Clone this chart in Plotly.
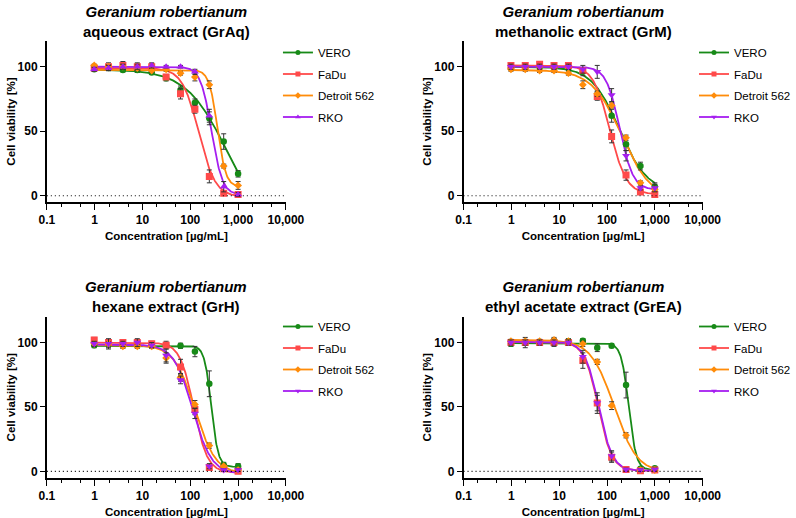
import numpy as np
import plotly.graph_objects as go

# ---------------- data ----------------
conc = [0.98, 1.95, 3.9, 7.8, 15.6, 31.25, 62.5, 125, 250, 500, 1000]
tick_vals = [0.1, 1, 10, 100, 1000, 10000]
tick_text = ["0.1", "1", "10", "100", "1,000", "10,000"]
y_ticks = [0, 50, 100]
cell_lines = ["VERO", "FaDu", "Detroit 562", "RKO"]
species = "Geranium robertianum"
extracts = ["aqueous extract (GrAq)", "methanolic extract (GrM)",
            "hexane extract (GrH)", "ethyl acetate extract (GrEA)"]

# GrAq (aqueous)
graq_vero = [98, 99, 97.5, 97.5, 95.5, 91, 82, 72, 60, 42, 17]
graq_fadu = [99, 100, 101, 100, 100, 92, 79, 67, 15, 2, 1]
graq_detroit = [101, 100, 100, 99, 97, 98, 95, 92, 86, 23, 8]
graq_rko = [98, 99, 100, 100, 101, 100, 100, 96, 62, 7, 1]
graq_vero_sd = [1.5, 2, 1.5, 2, 1.5, 2, 3, 3, 5, 6, 2.5]
graq_fadu_sd = [2, 3, 3, 3, 2, 2, 4, 3, 5, 1.5, 1.5]
graq_detroit_sd = [1, 1.5, 1.5, 1.5, 1.5, 1.5, 1.5, 3, 3, 1.5, 3]
graq_rko_sd = [1.5, 2, 2, 2, 2, 1, 1, 2, 5, 4, 1.5]

# GrM (methanolic)
grm_vero = [99, 100, 100, 100, 99, 96, 78, 62, 40, 23, 7]
grm_fadu = [101, 101, 102, 101, 101, 97, 77, 46, 16, 3, 1]
grm_detroit = [98, 98, 97, 97, 95, 86, 79, 70, 45, 10, 5]
grm_rko = [100, 100, 100, 100, 100, 98, 96, 78, 31, 6, 6]
grm_vero_sd = [1.5, 2, 2, 2, 2, 3, 3, 5, 5, 3, 3]
grm_fadu_sd = [2, 2, 2, 2, 2, 2, 3, 5, 4, 1.5, 1]
grm_detroit_sd = [1.5, 1.5, 1.5, 1.5, 1.5, 3, 2, 2, 2, 1.5, 1.5]
grm_rko_sd = [2, 2, 2, 2, 2, 3, 5, 5, 4, 1.5, 3]

# GrH (hexane)
grh_vero = [98, 99, 98, 98, 98, 98, 97.5, 93, 68, 5, 4]
grh_fadu = [102, 100, 100, 100, 99, 98, 81, 48, 3, 2, 0]
grh_detroit = [99, 99, 97, 97, 97, 88, 73, 52, 20, 4, 1]
grh_rko = [99, 99, 99, 100, 98, 90, 71, 45, 4, 1, 1]
grh_vero_sd = [2, 3, 2, 2, 2, 2, 2, 4, 10, 2, 2]
grh_fadu_sd = [2, 2, 2, 2, 2, 3, 6, 4, 2, 1.5, 1]
grh_detroit_sd = [1.5, 1.5, 1.5, 1.5, 1.5, 4, 3, 3, 2, 1.5, 1]
grh_rko_sd = [2, 4, 2, 3, 2, 5, 3, 4, 2, 1, 1]

# GrEA (ethyl acetate)
grea_vero = [99, 100, 100, 101, 101, 101.5, 96, 97.5, 67, 2, 2.5]
grea_fadu = [100, 100, 100, 100, 100, 86, 53, 11, 1.5, 0.5, 1]
grea_detroit = [101, 101, 101, 102, 101, 99, 85, 51, 28, 1, 1]
grea_rko = [100, 100, 100, 100, 100, 89, 53, 12, 1.5, 1, 1.5]
grea_vero_sd = [2, 2, 2, 2, 2, 1.5, 3, 1.5, 10, 1, 1]
grea_fadu_sd = [2, 4, 2, 3, 2, 6, 6, 4, 1, 1, 1]
grea_detroit_sd = [1.5, 1.5, 1.5, 2, 1.5, 2, 2, 3, 2, 1, 1]
grea_rko_sd = [2, 2, 2, 2, 2, 5, 8, 4, 1, 1, 1]

# four-parameter logistic fits: [bottom, top, IC50, hill]
graq_fits = [[-30, 98, 600, 1.0], [-1, 99, 150, 2.5], [7, 97.5, 370, 5.0], [0.5, 100, 278, 3.8]]
grm_fits = [[3, 100, 181, 1.5], [1, 101, 115, 2.5], [-3, 97.5, 200, 1.4], [4.5, 100, 184, 3.1]]
grh_fits = [[3.5, 97.5, 275, 6.0], [-1, 100, 118, 3.0], [-2, 98, 125, 2.0], [-2, 98.5, 112, 2.2]]
grea_fits = [[1, 99.5, 285, 5.5], [0.5, 100.5, 65, 3.0], [-1, 102, 140, 1.8], [0.5, 100.5, 67, 3.0]]

panels = [
    ([graq_vero, graq_fadu, graq_detroit, graq_rko],
     [graq_vero_sd, graq_fadu_sd, graq_detroit_sd, graq_rko_sd], graq_fits),
    ([grm_vero, grm_fadu, grm_detroit, grm_rko],
     [grm_vero_sd, grm_fadu_sd, grm_detroit_sd, grm_rko_sd], grm_fits),
    ([grh_vero, grh_fadu, grh_detroit, grh_rko],
     [grh_vero_sd, grh_fadu_sd, grh_detroit_sd, grh_rko_sd], grh_fits),
    ([grea_vero, grea_fadu, grea_detroit, grea_rko],
     [grea_vero_sd, grea_fadu_sd, grea_detroit_sd, grea_rko_sd], grea_fits),
]

# ---------------- style ----------------
W, H = 796, 518
FONT = "Liberation Sans, Arial, sans-serif"
colors = ["#178a17", "#ff4a4a", "#ff8c0a", "#a51ef0"]
rko_symbols = ["triangle-up", "triangle-down", "triangle-down", "triangle-down"]
base_symbols = ["circle", "square", "diamond", None]
msizes = [6.5, 7, 6, 7]

# plot areas in pixels: (x0, x1, y_top, y_bottom)
areas = [(47, 287, 40.9, 202.2), (465.3, 705.3, 40.9, 202.2),
         (47, 287, 316.8, 477.8), (465.3, 705.3, 316.8, 477.8)]
legend_pos = [(279, 38), (697, 38), (279, 312), (697, 312)]
title_y = [21, 21, 296.5, 296.5]


def px(v):
    return v / W


def py(v):
    return 1 - v / H


def logistic(x, p):
    b, t, ic, h = p
    return b + (t - b) / (1 + (x / ic) ** h)


fig = go.Figure()
curve_x = np.logspace(0, 3, 300)

for i, (vals, sds, fits) in enumerate(panels):
    n = i + 1
    xa = "x" if n == 1 else f"x{n}"
    ya = "y" if n == 1 else f"y{n}"
    lg = "legend" if n == 1 else f"legend{n}"
    symbols = base_symbols[:3] + [rko_symbols[i]]
    # fitted curves
    for k in range(4):
        fig.add_trace(go.Scatter(
            x=curve_x, y=logistic(curve_x, fits[k]), mode="lines",
            line=dict(color=colors[k], width=1.8), xaxis=xa, yaxis=ya,
            showlegend=False, hoverinfo="skip"))
    # data points with error bars
    for k in range(4):
        fig.add_trace(go.Scatter(
            x=conc, y=vals[k], mode="markers",
            marker=dict(color=colors[k], size=msizes[k], symbol=symbols[k], line=dict(width=0)),
            error_y=dict(type="data", array=sds[k], color="#333333", thickness=1, width=2.5),
            xaxis=xa, yaxis=ya, showlegend=False, name=cell_lines[k]))
    # legend entries
    for k in range(4):
        fig.add_trace(go.Scatter(
            x=[None], y=[None], mode="lines+markers", name=cell_lines[k],
            line=dict(color=colors[k], width=1.8),
            marker=dict(color=colors[k], size=5, symbol=symbols[k]),
            xaxis=xa, yaxis=ya, legend=lg, legendgroup=f"p{n}_{k}", showlegend=True))

    x0, x1, yt, yb = areas[i]
    axis_font = dict(family=FONT, size=12, color="black", weight="bold")
    title_font = dict(family=FONT, size=11.5, color="black", weight="bold")
    fig.update_layout(**{
        ("xaxis" if n == 1 else f"xaxis{n}"): dict(
            domain=[px(x0), px(x1)], anchor=ya, type="log", range=[-1, 4],
            automargin=False,
            tickvals=tick_vals, ticktext=tick_text, tickfont=axis_font,
            showline=True, linecolor="black", linewidth=1.6, mirror=False,
            ticks="outside", ticklen=6, tickwidth=1.4, tickcolor="black",
            minor=dict(ticks="outside", ticklen=3, tickwidth=1, tickcolor="black", showgrid=False),
            showgrid=False, zeroline=False,
            title=dict(text="Concentration [µg/mL]", font=title_font, standoff=6)),
        ("yaxis" if n == 1 else f"yaxis{n}"): dict(
            domain=[py(yb), py(yt)], anchor=xa, range=[-5, 120],
            automargin=False,
            tickvals=y_ticks, tickfont=axis_font,
            showline=True, linecolor="black", linewidth=1.6,
            ticks="outside", ticklen=5, tickwidth=1.4, tickcolor="black",
            showgrid=False, zeroline=False,
            title=dict(text="Cell viability [%]", font=title_font, standoff=0)),
        lg: dict(x=px(legend_pos[i][0]), y=py(legend_pos[i][1]), xanchor="left", yanchor="top",
                 font=dict(family=FONT, size=11.5, color="black"), bgcolor="rgba(0,0,0,0)",
                 borderwidth=0, itemwidth=30, tracegroupgap=2.5),
    })
    # dotted zero line
    fig.add_shape(type="line", xref=f"{xa} domain", yref=ya, x0=0, x1=1, y0=0, y1=0,
                  line=dict(color="black", width=1.2, dash="1px,3px"))
    # panel title
    fig.add_annotation(
        text=f"<b><i>{species}</i></b><br><b>{extracts[i]}</b>",
        x=px((x0 + x1) / 2), y=py(title_y[i]), xref="paper", yref="paper",
        xanchor="center", yanchor="middle", showarrow=False,
        font=dict(family=FONT, size=15, color="black"))

fig.update_layout(width=W, height=H, margin=dict(l=0, r=0, t=0, b=0),
                  paper_bgcolor="white", plot_bgcolor="white",
                  font=dict(family=FONT, color="black"))

fig.write_html("out.html", config={"displayModeBar": False},
               post_script="document.body.style.margin='0';document.body.style.overflow='hidden';")
